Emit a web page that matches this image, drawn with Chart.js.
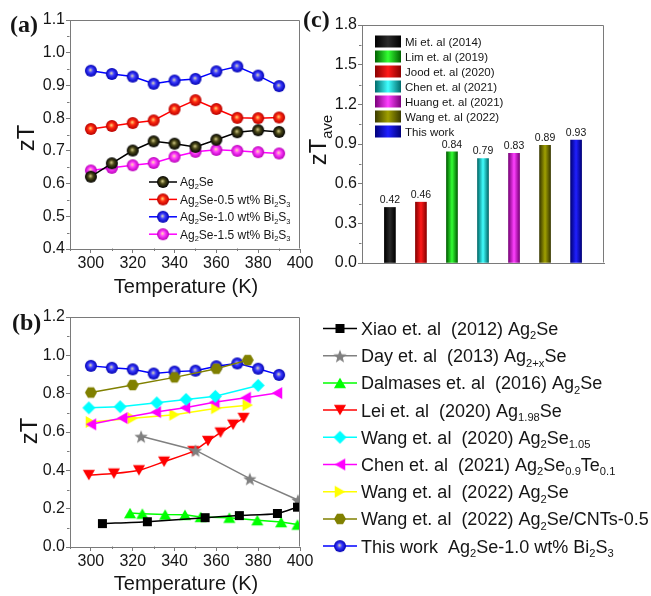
<!DOCTYPE html>
<html>
<head>
<meta charset="utf-8">
<script src="https://cdn.jsdelivr.net/npm/chart.js@4.4.0/dist/chart.umd.min.js"></script>
<style>
  html, body { margin: 0; padding: 0; background: #fff; }
  #wrap { position: relative; width: 651px; height: 596px; overflow: hidden; }
  #wrap canvas { position: absolute; left: 0; top: 0; }
</style>
</head>
<body>
<div id="wrap">
  <canvas id="chartA" width="651" height="596"></canvas>
  <canvas id="chartB" width="651" height="596"></canvas>
  <canvas id="chartC" width="651" height="596"></canvas>
</div>
<script>
// ---- data: panel (a), zT vs T for the Bi2S3 series
const tempsA = [300, 310, 320, 330, 340, 350, 360, 370, 380, 390];
const ztAg2Se = [0.621, 0.662, 0.701, 0.729, 0.722, 0.712, 0.734, 0.757, 0.763, 0.758];
const zt05 = [0.767, 0.776, 0.785, 0.793, 0.827, 0.855, 0.828, 0.801, 0.800, 0.802];
const zt10 = [0.945, 0.935, 0.927, 0.905, 0.915, 0.920, 0.943, 0.958, 0.930, 0.898];
const zt15 = [0.640, 0.648, 0.656, 0.663, 0.682, 0.697, 0.703, 0.700, 0.696, 0.692];
const labelsA = ["Ag_{2}Se", "Ag_{2}Se-0.5 wt% Bi_{2}S_{3}", "Ag_{2}Se-1.0 wt% Bi_{2}S_{3}", "Ag_{2}Se-1.5 wt% Bi_{2}S_{3}"];

// ---- data: panel (b), literature comparison, [T, zT]
const xiao = [[305.5, 0.122], [327, 0.132], [354.6, 0.153], [371, 0.164], [389.2, 0.175], [398.8, 0.208]];
const day = [[324, 0.578], [350, 0.505], [376, 0.357], [399, 0.245]];
const dalmases = [[318.7, 0.177], [324.6, 0.174], [335.5, 0.169], [345, 0.168], [352.5, 0.157], [366.2, 0.153], [379.6, 0.140], [391, 0.130], [398.8, 0.117]];
const lei = [[299, 0.375], [311, 0.383], [323, 0.400], [335, 0.445], [349, 0.500], [356, 0.553], [362, 0.597], [368, 0.638], [373, 0.673]];
const wang2020 = [[299, 0.726], [314, 0.732], [331.5, 0.752], [345.5, 0.770], [359.5, 0.786], [380, 0.843]];
const chen2021 = [[300, 0.640], [315, 0.673], [331, 0.704], [345, 0.727], [359, 0.755], [374, 0.779], [389, 0.803]];
const wang2022 = [[300, 0.652], [320, 0.672], [340, 0.690], [360, 0.724], [375, 0.740]];
const wangCNT = [[300, 0.806], [320, 0.845], [340, 0.885], [360, 0.930], [375, 0.975]];
const thisWork = tempsA.map((t, i) => [t, zt10[i]]);
const labelsB = [
  "Xiao et. al  (2012) Ag_{2}Se",
  "Day et. al  (2013) Ag_{2+x}Se",
  "Dalmases et. al  (2016) Ag_{2}Se",
  "Lei et. al  (2020) Ag_{1.98}Se",
  "Wang et. al  (2020) Ag_{2}Se_{1.05}",
  "Chen et. al  (2021) Ag_{2}Se_{0.9}Te_{0.1}",
  "Wang et. al  (2022) Ag_{2}Se",
  "Wang et. al  (2022) Ag_{2}Se/CNTs-0.5",
  "This work  Ag_{2}Se-1.0 wt% Bi_{2}S_{3}"
];

// ---- data: panel (c), average zT (bars in plotted order)
const barNames = ["Mi et. al (2014)", "Jood et. al (2020)", "Lim et. al (2019)", "Chen et. al (2021)", "Huang et. al (2021)", "Wang et. al (2022)", "This work"];
const ztAve = [0.42, 0.46, 0.84, 0.79, 0.83, 0.89, 0.93];
const legendOrderC = [0, 2, 1, 3, 4, 5, 6];

// tick values
const tempTicks = [300, 320, 340, 360, 380, 400];
const tempMinor = [290, 310, 330, 350, 370, 390];
const ticksA = [0.4, 0.5, 0.6, 0.7, 0.8, 0.9, 1.0, 1.1];
const ticksB = [0.0, 0.2, 0.4, 0.6, 0.8, 1.0, 1.2];
const ticksC = [0.0, 0.3, 0.6, 0.9, 1.2, 1.5, 1.8];

// ---- styling
const SANS = '"Liberation Sans", Arial, sans-serif';
const SERIF = '"Liberation Serif", "Times New Roman", serif';
const AXIS = '#7a7a7a';
const INK = '#151515';

// markers drawn once into little canvases
function polygon(g, cx, cy, R, angles) {
  angles.forEach((a, i) => {
    const t = a * Math.PI / 180;
    const px = cx + R * Math.cos(t), py = cy + R * Math.sin(t);
    if (i) g.lineTo(px, py); else g.moveTo(px, py);
  });
  g.closePath();
}

const sphereStops = {
  black: ['#d8cf8a', '#4a4818', '#000000'],
  red: ['#ffe27a', '#ff2a10', '#b80000'],
  blue: ['#e6e2b0', '#3a3aff', '#0000b0'],
  magenta: ['#ffe6a8', '#ff3cff', '#b800b8']
};

function makeMarker(shape, color, R) {
  const c = document.createElement('canvas');
  const s = Math.ceil(2 * R + 4);
  c.width = c.height = s;
  const g = c.getContext('2d');
  const m = s / 2;
  g.beginPath();
  if (shape === 'square') g.rect(m - R, m - R, 2 * R, 2 * R);
  else if (shape === 'up') polygon(g, m, m + R / 4, R, [-90, 30, 150]);
  else if (shape === 'down') polygon(g, m, m - R / 4, R, [90, 210, 330]);
  else if (shape === 'left') polygon(g, m + R / 4, m, R, [180, 300, 60]);
  else if (shape === 'right') polygon(g, m - R / 4, m, R, [0, 120, 240]);
  else if (shape === 'diamond') polygon(g, m, m, R, [0, 90, 180, 270]);
  else if (shape === 'hexagon') polygon(g, m, m, R, [0, 60, 120, 180, 240, 300]);
  else if (shape === 'star') {
    const pts = [];
    for (let k = 0; k < 10; k++) pts.push(-90 + 36 * k);
    pts.forEach((a, k) => {
      const r = k % 2 ? R * 0.42 : R;
      const t = a * Math.PI / 180;
      const px = m + r * Math.cos(t), py = m + 1 + r * Math.sin(t);
      if (k) g.lineTo(px, py); else g.moveTo(px, py);
    });
    g.closePath();
  } else if (shape === 'sphere') {
    g.arc(m, m, R, 0, Math.PI * 2);
    const st = sphereStops[color];
    const grd = g.createRadialGradient(m - R * 0.1, m - R * 0.15, 0, m, m, R);
    grd.addColorStop(0, st[0]);
    grd.addColorStop(0.42, st[1]);
    grd.addColorStop(1, st[2]);
    g.fillStyle = grd;
    g.fill();
    return c;
  }
  g.fillStyle = color;
  g.fill();
  return c;
}

// text with _{subscript} parts
function richParts(str) {
  const parts = [];
  const re = /_\{([^}]*)\}/g;
  let last = 0, mm;
  while ((mm = re.exec(str))) {
    if (mm.index > last) parts.push([str.slice(last, mm.index), false]);
    parts.push([mm[1], true]);
    last = re.lastIndex;
  }
  if (last < str.length) parts.push([str.slice(last), false]);
  return parts;
}

function richWidth(ctx, str, size) {
  let w = 0;
  richParts(str).forEach(([t, sub]) => {
    ctx.font = (sub ? size * 0.62 : size) + 'px ' + SANS;
    w += ctx.measureText(t).width;
  });
  return w;
}

function drawRich(ctx, str, x, y, size, color) {
  ctx.fillStyle = color || INK;
  ctx.textAlign = 'left';
  ctx.textBaseline = 'alphabetic';
  let cx = x;
  richParts(str).forEach(([t, sub]) => {
    ctx.font = (sub ? size * 0.62 : size) + 'px ' + SANS;
    ctx.fillText(t, cx, sub ? y + size * 0.24 : y);
    cx += ctx.measureText(t).width;
  });
}

function drawText(ctx, str, x, y, font, align, rot) {
  ctx.save();
  ctx.translate(x, y);
  if (rot) ctx.rotate(rot);
  ctx.font = font;
  ctx.fillStyle = INK;
  ctx.textAlign = align || 'center';
  ctx.textBaseline = 'middle';
  ctx.fillText(str, 0, 0);
  ctx.restore();
}

// box on top/right + minor ticks
const framePlugin = {
  id: 'frame',
  afterDraw(chart, args, opts) {
    const { ctx, chartArea: a } = chart;
    ctx.save();
    ctx.strokeStyle = AXIS;
    ctx.lineWidth = 1;
    const L = Math.round(a.left) - 0.5, R = Math.round(a.right) - 0.5;
    const T = Math.round(a.top) + 0.5, B = Math.round(a.bottom) - 0.5;
    ctx.beginPath();
    ctx.moveTo(L, T); ctx.lineTo(R, T); ctx.lineTo(R, B);
    (opts.minorX || []).forEach(v => {
      const px = Math.round(chart.scales.x.getPixelForValue(v)) + 0.5;
      ctx.moveTo(px, B); ctx.lineTo(px, B + 2.5);
    });
    (opts.minorY || []).forEach(v => {
      const py = Math.round(chart.scales.y.getPixelForValue(v)) + 0.5;
      ctx.moveTo(L, py); ctx.lineTo(L - 2.5, py);
    });
    ctx.stroke();
    if (opts.overlay) opts.overlay(ctx, chart);
    ctx.restore();
  }
};

function axis(min, max, ticks, fit, horizontal, digits, showLabels) {
  return {
    type: 'linear',
    min: min,
    max: max,
    offset: false,
    afterBuildTicks: s => { s.ticks = ticks.map(v => ({ value: v })); },
    afterFit: s => { if (horizontal) s.height = fit; else s.width = fit; },
    border: { color: AXIS, width: 1 },
    grid: { drawOnChartArea: false, drawTicks: showLabels !== false, tickLength: 4, color: AXIS },
    ticks: {
      display: showLabels !== false,
      autoSkip: false,
      maxRotation: 0,
      padding: 1,
      color: INK,
      font: { family: SANS, size: 16 },
      callback: v => digits === 0 ? String(v) : Number(v).toFixed(digits)
    }
  };
}

const baseOptions = {
  responsive: false,
  animation: false,
  events: [],
  plugins: { legend: { display: false }, tooltip: { enabled: false } }
};

// ---------------- panel (a)
const spheres = {
  black: makeMarker('sphere', 'black', 6),
  red: makeMarker('sphere', 'red', 6),
  blue: makeMarker('sphere', 'blue', 6),
  magenta: makeMarker('sphere', 'magenta', 6)
};
const seriesA = [ztAg2Se, zt05, zt10, zt15];
const lineColorsA = ['#000000', '#ff0000', '#0000ff', '#ff00ff'];
const markersA = [spheres.black, spheres.red, spheres.blue, spheres.magenta];

function overlayA(ctx) {
  drawText(ctx, '(a)', 10, 26, 'bold 24px ' + SERIF, 'left');
  drawText(ctx, 'zT', 27, 138, '24px ' + SANS, 'center', -Math.PI / 2);
  drawText(ctx, 'Temperature (K)', 186, 287, '20px ' + SANS, 'center');
  labelsA.forEach((lab, i) => {
    const cy = 182 + i * 17.4;
    ctx.strokeStyle = lineColorsA[i];
    ctx.lineWidth = 1.5;
    ctx.beginPath(); ctx.moveTo(149, cy); ctx.lineTo(177, cy); ctx.stroke();
    const mk = markersA[i];
    ctx.drawImage(mk, 163 - mk.width / 2, cy - mk.height / 2);
    drawRich(ctx, lab, 180, cy + 4.3, 12);
  });
}

new Chart(document.getElementById('chartA'), {
  type: 'line',
  data: {
    datasets: seriesA.map((vals, i) => ({
      data: vals.map((v, k) => ({ x: tempsA[k], y: v })),
      borderColor: lineColorsA[i],
      borderWidth: 1.5,
      pointStyle: markersA[i],
      pointRadius: 5,
      tension: 0
    }))
  },
  options: Object.assign({}, baseOptions, {
    layout: { padding: { left: 0, top: 20, right: 351, bottom: 0 } },
    scales: {
      x: axis(290, 400, tempTicks, 596 - 249, true, 0),
      y: axis(0.4, 1.1, ticksA, 70, false, 1)
    },
    plugins: Object.assign({}, baseOptions.plugins, {
      frame: { minorX: tempMinor, minorY: [0.45, 0.55, 0.65, 0.75, 0.85, 0.95, 1.05], overlay: overlayA }
    })
  }),
  plugins: [framePlugin]
});

// ---------------- panel (b)
const seriesB = [xiao, day, dalmases, lei, wang2020, chen2021, wang2022, wangCNT, thisWork];
const colorsB = ['#000000', '#808080', '#00ff00', '#ff0000', '#00ffff', '#ff00ff', '#ffff00', '#808000', '#0000ff'];
const markersB = [
  makeMarker('square', '#000000', 4.5),
  makeMarker('star', '#808080', 7),
  makeMarker('up', '#00ff00', 7),
  makeMarker('down', '#ff0000', 7),
  makeMarker('diamond', '#00ffff', 6.5),
  makeMarker('left', '#ff00ff', 7),
  makeMarker('right', '#ffff00', 7),
  makeMarker('hexagon', '#808000', 6),
  spheres.blue
];
const tensionB = [0.25, 0, 0, 0.25, 0, 0, 0, 0, 0];

function overlayB(ctx) {
  drawText(ctx, '(b)', 12, 324, 'bold 24px ' + SERIF, 'left');
  drawText(ctx, 'zT', 30, 431, '24px ' + SANS, 'center', -Math.PI / 2);
  drawText(ctx, 'Temperature (K)', 186, 584, '20px ' + SANS, 'center');
  labelsB.forEach((lab, i) => {
    const cy = 328.5 + i * 27.2;
    ctx.strokeStyle = colorsB[i];
    ctx.lineWidth = 1.5;
    ctx.beginPath(); ctx.moveTo(323, cy); ctx.lineTo(357, cy); ctx.stroke();
    const mk = markersB[i];
    ctx.drawImage(mk, 340 - mk.width / 2, cy - mk.height / 2);
    drawRich(ctx, lab, 361, cy + 6.5, 18);
  });
}

new Chart(document.getElementById('chartB'), {
  type: 'line',
  data: {
    datasets: seriesB.map((pts, i) => ({
      data: pts.map(p => ({ x: p[0], y: p[1] })),
      borderColor: colorsB[i],
      borderWidth: 1.5,
      pointStyle: markersB[i],
      pointRadius: 5,
      tension: tensionB[i]
    }))
  },
  options: Object.assign({}, baseOptions, {
    layout: { padding: { left: 0, top: 317, right: 351, bottom: 0 } },
    scales: {
      x: axis(290, 400, tempTicks, 596 - 547, true, 0),
      y: axis(0, 1.2, ticksB, 70, false, 1)
    },
    plugins: Object.assign({}, baseOptions.plugins, {
      frame: { minorX: tempMinor, minorY: [0.1, 0.3, 0.5, 0.7, 0.9, 1.1], overlay: overlayB }
    })
  }),
  plugins: [framePlugin]
});

// ---------------- panel (c)
const barShades = [
  ['#000000', '#2a2a2a', '#000000'],
  ['#8a0000', '#ff1a1a', '#8a0000'],
  ['#006000', '#33ff33', '#006000'],
  ['#006a6a', '#40ffff', '#006a6a'],
  ['#7a007a', '#ff40ff', '#7a007a'],
  ['#3a3a00', '#a0a000', '#3a3a00'],
  ['#00007a', '#2020ff', '#00007a']
];

function shadeGradient(ctx, x0, x1, shade) {
  const g = ctx.createLinearGradient(x0, 0, x1, 0);
  g.addColorStop(0, shade[0]);
  g.addColorStop(0.5, shade[1]);
  g.addColorStop(1, shade[2]);
  return g;
}

function overlayC(ctx, chart) {
  drawText(ctx, '(c)', 303, 21, 'bold 24px ' + SERIF, 'left');
  // rotated zT_ave
  ctx.save();
  ctx.translate(318, 140);
  ctx.rotate(-Math.PI / 2);
  const w = richWidth(ctx, 'zT_{ave}', 24);
  drawRich(ctx, 'zT_{ave}', -w / 2, 8, 24);
  ctx.restore();
  // legend
  legendOrderC.forEach((bi, i) => {
    const cy = 41.5 + i * 15;
    ctx.fillStyle = shadeGradient(ctx, 375, 401, barShades[bi]);
    ctx.fillRect(375, cy - 6, 26, 12);
    drawRich(ctx, barNames[bi], 405, cy + 4, 11.5);
  });
  // value labels
  const xs = chart.scales.x, ys = chart.scales.y;
  ztAve.forEach((v, i) => {
    drawText(ctx, v.toFixed(2), xs.getPixelForValue(i), ys.getPixelForValue(v) - 7, '10.5px ' + SANS, 'center');
  });
}

new Chart(document.getElementById('chartC'), {
  type: 'bar',
  data: {
    datasets: barNames.map((name, i) => ({
      label: name,
      data: [{ x: i, y: ztAve[i] }],
      grouped: false,
      barThickness: 11,
      borderWidth: 0,
      backgroundColor: c => {
        const sc = c.chart.scales.x;
        if (!sc || !c.chart.chartArea) return barShades[i][1];
        const px = sc.getPixelForValue(i);
        return shadeGradient(c.chart.ctx, px - 5.5, px + 5.5, barShades[i]);
      }
    }))
  },
  options: Object.assign({}, baseOptions, {
    layout: { padding: { left: 0, top: 25, right: 47, bottom: 0 } },
    scales: {
      x: axis(-0.9, 6.9, [], 596 - 263, true, 0, false),
      y: axis(0, 1.8, ticksC, 362, false, 1)
    },
    plugins: Object.assign({}, baseOptions.plugins, {
      frame: { minorY: [0.15, 0.45, 0.75, 1.05, 1.35, 1.65], overlay: overlayC }
    })
  }),
  plugins: [framePlugin]
});
</script>
</body>
</html>
